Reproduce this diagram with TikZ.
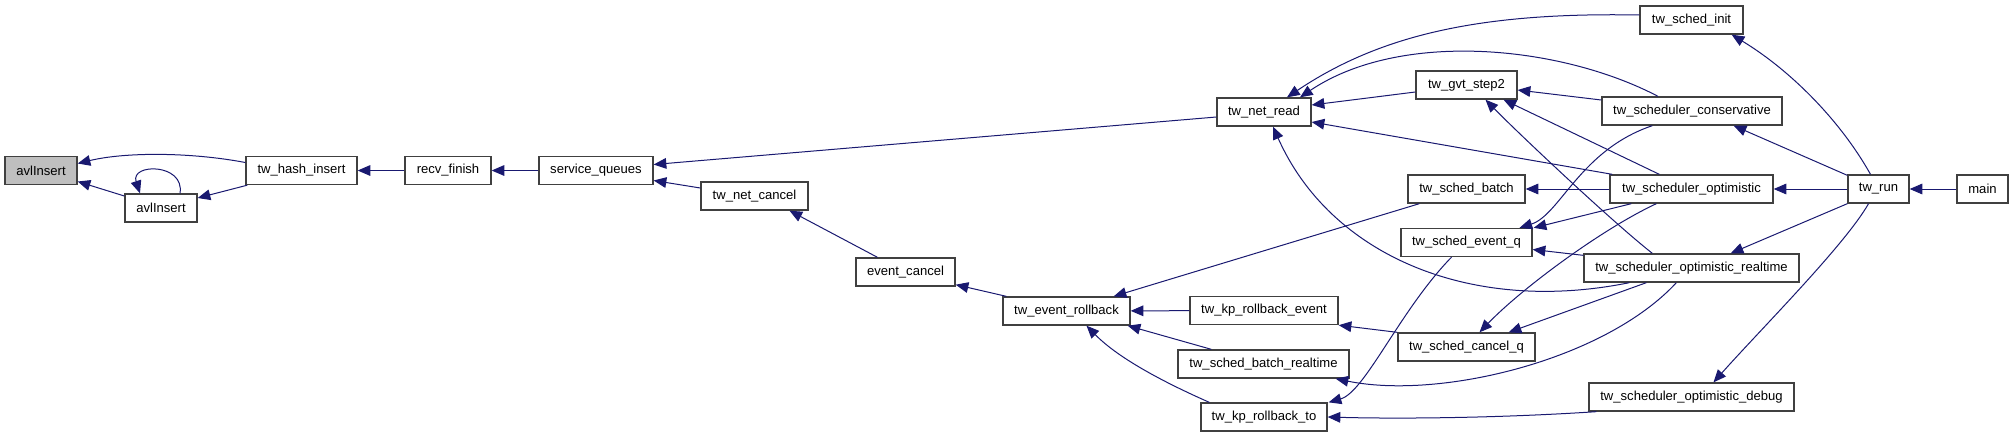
\documentclass[tikz,border=0pt]{standalone}
\usepackage{fontspec}
\setmainfont{Liberation Sans}
\usetikzlibrary{arrows.meta,calc}
\definecolor{edgec}{HTML}{191970}
\definecolor{boxc}{HTML}{404040}
\definecolor{hl}{HTML}{BFBFBF}
\tikzset{
 gbox/.style={draw=boxc, line width=1pt, fill=white, inner sep=0pt, minimum height=21pt, font=\fontsize{9.8}{11}\selectfont},
 edge/.style={draw=edgec, line width=0.75pt, -{Triangle[length=9.5pt,width=8pt]}},
}
\newcommand\gnode[6][]{\node[gbox,#1, minimum width=#5*0.75pt] (#2) at (#3,#4) {#6};}
\begin{document}
\begin{tikzpicture}[x=0.75pt,y=-0.75pt]
\useasboundingbox (0,0) rectangle (2013,437);
\gnode[fill=hl]{avl}{41}{170.5}{72}{avlInsert}
\gnode{avltwo}{161}{208}{72}{avlInsert}
\gnode{hash}{301.5}{170.5}{111}{tw\_hash\_insert}
\gnode{recv}{448}{170.5}{86}{recv\_finish}
\gnode{sq}{596}{170.5}{114}{service\_queues}
\gnode{netcancel}{754.5}{196}{107}{tw\_net\_cancel}
\gnode{evcancel}{905.5}{272}{99}{event\_cancel}
\gnode{evroll}{1066.5}{311}{127}{tw\_event\_rollback}
\gnode{netread}{1264}{112}{94}{tw\_net\_read}
\gnode{kpre}{1264}{310.5}{148}{tw\_kp\_rollback\_event}
\gnode{sbr}{1263.5}{364}{171}{tw\_sched\_batch\_realtime}
\gnode{kprt}{1264}{417}{126}{tw\_kp\_rollback\_to}
\gnode{gvt}{1466.5}{85}{101}{tw\_gvt\_step2}
\gnode{sbatch}{1466.5}{189}{117}{tw\_sched\_batch}
\gnode{seq}{1466.5}{242.5}{131}{tw\_sched\_event\_q}
\gnode{scq}{1466.5}{347}{137}{tw\_sched\_cancel\_q}
\gnode{sinit}{1691.5}{20}{103}{tw\_sched\_init}
\gnode{scons}{1692}{111}{180}{tw\_scheduler\_conservative}
\gnode{sopt}{1691.5}{189}{163}{tw\_scheduler\_optimistic}
\gnode{srt}{1691.5}{268}{215}{tw\_scheduler\_optimistic\_realtime}
\gnode{sdbg}{1691.5}{397}{205}{tw\_scheduler\_optimistic\_debug}
\gnode{run}{1878.5}{189}{61}{tw\_run}
\gnode{main}{1982.5}{189}{51}{main}

\draw[edge] ($(hash.west)+(0,-8)$) .. controls (190,152) and (125,152) .. ($(avl.east)+(0,-7)$);
\draw[edge] ($(avltwo.west)+(0,-12)$) -- ($(avl.east)+(0,11)$);
\draw[edge] ($(avltwo.north)+(19,0)$) .. controls (185,163) and (130,163) .. ($(avltwo.north)+(-21,0)$);
\draw[edge] ($(hash.south west)+(2,0)$) -- ($(avltwo.east)+(0,-10)$);
\draw[edge] (recv) -- (hash);
\draw[edge] (sq) -- (recv);
\draw[edge] ($(netread.west)+(0,5)$) -- ($(sq.east)+(0,-6)$);
\draw[edge] ($(netcancel.west)+(0,-8)$) -- ($(sq.east)+(0,10)$);
\draw[edge] ($(evcancel.north)+(-28,0)$) -- ($(netcancel.south)+(35,0)$);
\draw[edge] ($(evroll.north west)+(4,0)$) -- ($(evcancel.south east)+(0,-2)$);
\draw[edge] ($(sbatch.south west)+(12,0)$) -- ($(evroll.north east)+(-17,0)$);
\draw[edge] (kpre) -- (evroll);
\draw[edge] ($(sbr.north west)+(34,0)$) -- ($(evroll.south east)+(-3,0)$);
\draw[edge] ($(kprt.north west)+(9,0)$) .. controls (1170,385) and (1120,360) .. ($(evroll.south)+(20,0)$);
\draw[edge] (scq.north west) -- (kpre.south east);
\draw[edge] ($(seq.south)+(-15,0)$) .. controls (1400,310) and (1365,392) .. ($(kprt.north east)+(1,0)$);
\draw[edge] ($(sinit.west)+(0,-5)$) .. controls (1480,12) and (1380,35) .. ($(netread.north)+(23,0)$);
\draw[edge] ($(scons.north)+(-34,0)$) .. controls (1560,45) and (1400,30) .. ($(netread.north)+(36,0)$);
\draw[edge] ($(gvt.west)+(0,7)$) -- ($(netread.east)+(0,-7)$);
\draw[edge] ($(sopt.north west)+(3,0)$) -- ($(netread.east)+(0,10)$);
\draw[edge] ($(srt.south west)+(46,0)$) .. controls (1470,315) and (1330,255) .. ($(netread.south)+(9,0)$);
\draw[edge] ($(scons.west)+(0,-11)$) -- ($(gvt.east)+(0,5)$);
\draw[edge] ($(sopt.north west)+(50,0)$) -- ($(gvt.south)+(37,0)$);
\draw[edge] ($(srt.north west)+(69,0)$) .. controls (1610,220) and (1515,130) .. ($(gvt.south)+(19,0)$);
\draw[edge] (sopt) -- (sbatch);
\draw[edge] ($(scons.south west)+(51,0)$) .. controls (1580,150) and (1560,215) .. ($(seq.north)+(53,0)$);
\draw[edge] ($(sopt.south west)+(22,0)$) -- ($(seq.north east)+(1,0)$);
\draw[edge] ($(srt.north west)+(0,2)$) -- ($(seq.east)+(0,7)$);
\draw[edge] ($(sopt.south west)+(47,0)$) .. controls (1600,230) and (1520,290) .. ($(scq.north)+(13,0)$);
\draw[edge] ($(srt.south west)+(63,0)$) -- ($(scq.north east)+(-27,0)$);
\draw[edge] ($(srt.south west)+(93,0)$) .. controls (1605,360) and (1440,400) .. ($(sbr.south east)+(-14,0)$);
\draw[edge] ($(sdbg.south west)+(8,0)$) .. controls (1500,418) and (1400,419) .. (kprt.east);
\draw[edge] ($(run.north)+(-8,0)$) .. controls (1840,120) and (1790,70) .. ($(sinit.south east)+(-12,0)$);
\draw[edge] ($(run.north west)+(0,1)$) -- ($(scons.south east)+(-49,0)$);
\draw[edge] (run) -- (sopt);
\draw[edge] (run.south west) -- ($(srt.north east)+(-69,0)$);
\draw[edge] ($(run.south)+(-10,0)$) .. controls (1845,245) and (1760,330) .. ($(sdbg.north)+(22,0)$);
\draw[edge] (main) -- (run);
\end{tikzpicture}
\end{document}
